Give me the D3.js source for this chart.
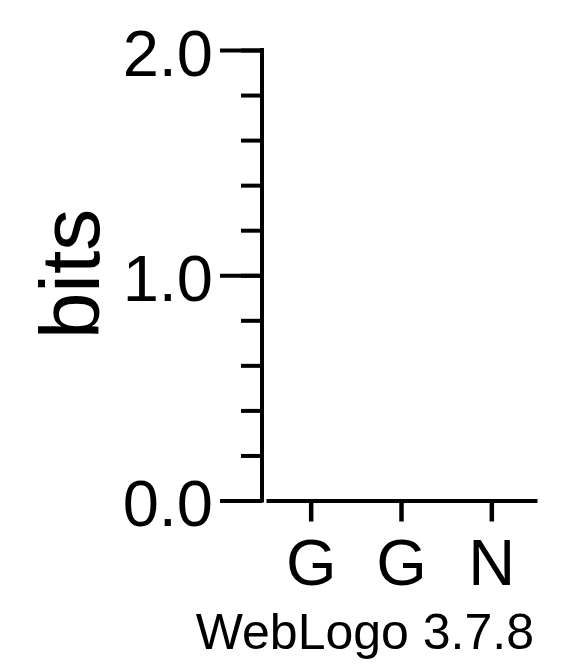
<!DOCTYPE html>
<html>
<head>
<meta charset="utf-8">
<script src="https://cdn.jsdelivr.net/npm/d3@7"></script>
<style>
  html, body { margin: 0; padding: 0; background: #fff; }
  svg { display: block; }
  text { font-family: "Liberation Sans", Arial, Helvetica, sans-serif; fill: #000; }
</style>
</head>
<body>
<script>
// ---- data ----
const positions = [1, 2, 3];
const positionLabels = ["G", "G", "N"];
const heights = [0, 0, 0];            // information content (bits) per column – empty stacks
const majorTicks = [0, 1, 2];
const minorTicks = [0, 0.2, 0.4, 0.6, 0.8, 1.0, 1.2, 1.4, 1.6, 1.8, 2.0];
const yLabel = "bits";
const footer = "WebLogo 3.7.8";

// ---- layout ----
const W = 583, H = 667;
const axisX = 262;

const svg = d3.select("body").append("svg")
  .attr("width", W).attr("height", H);
svg.append("rect").attr("width", W).attr("height", H).attr("fill", "#fff");

const y = d3.scaleLinear().domain([0, 2]).range([500.5, 50]);
const x = d3.scaleBand().domain(positions).range([266, 537]).padding(0);

// minor ticks
const gMinor = svg.append("g").attr("transform", `translate(${axisX},0)`)
  .call(d3.axisLeft(y).tickValues(minorTicks).tickSize(21).tickFormat(""));
gMinor.select(".domain").remove();

// major ticks with labels
const gMajor = svg.append("g").attr("transform", `translate(${axisX},0)`)
  .call(d3.axisLeft(y).tickValues(majorTicks).tickSize(42).tickPadding(7).tickFormat(d3.format(".1f")));
gMajor.select(".domain").remove();
gMajor.selectAll("text")
  .attr("font-size", 65)
  .attr("font-family", null)
  .attr("dy", "0.385em");

svg.selectAll(".tick line").attr("stroke", "#000").attr("stroke-width", 4);

// vertical axis line
svg.append("line")
  .attr("x1", axisX).attr("x2", axisX)
  .attr("y1", y(2)).attr("y2", y(0))
  .attr("stroke", "#000").attr("stroke-width", 4).attr("stroke-linecap", "square");

// x axis
const gx = svg.append("g").attr("transform", `translate(0,${y(0)})`)
  .call(d3.axisBottom(x).tickSize(21).tickSizeOuter(0).tickFormat((d, i) => positionLabels[i]));
gx.select(".domain").attr("stroke", "#000").attr("stroke-width", 4);
gx.selectAll(".tick line").attr("stroke", "#000").attr("stroke-width", 4.5);
gx.selectAll("text")
  .attr("font-size", 65)
  .attr("font-family", null)
  .attr("y", 84.5)
  .attr("dy", null);

// empty stacks (zero height columns)
svg.append("g").selectAll("rect").data(heights).join("rect")
  .attr("x", (d, i) => x(positions[i]))
  .attr("width", x.bandwidth())
  .attr("y", d => y(d))
  .attr("height", d => y(0) - y(d))
  .attr("fill", "none");

// y label
svg.append("text")
  .attr("transform", "translate(99,274) rotate(-90)")
  .attr("text-anchor", "middle")
  .attr("font-size", 84)
  .text(yLabel);

// footer
svg.append("text")
  .attr("x", 534).attr("y", 649)
  .attr("text-anchor", "end")
  .attr("font-size", 50)
  .text(footer);
</script>
</body>
</html>
